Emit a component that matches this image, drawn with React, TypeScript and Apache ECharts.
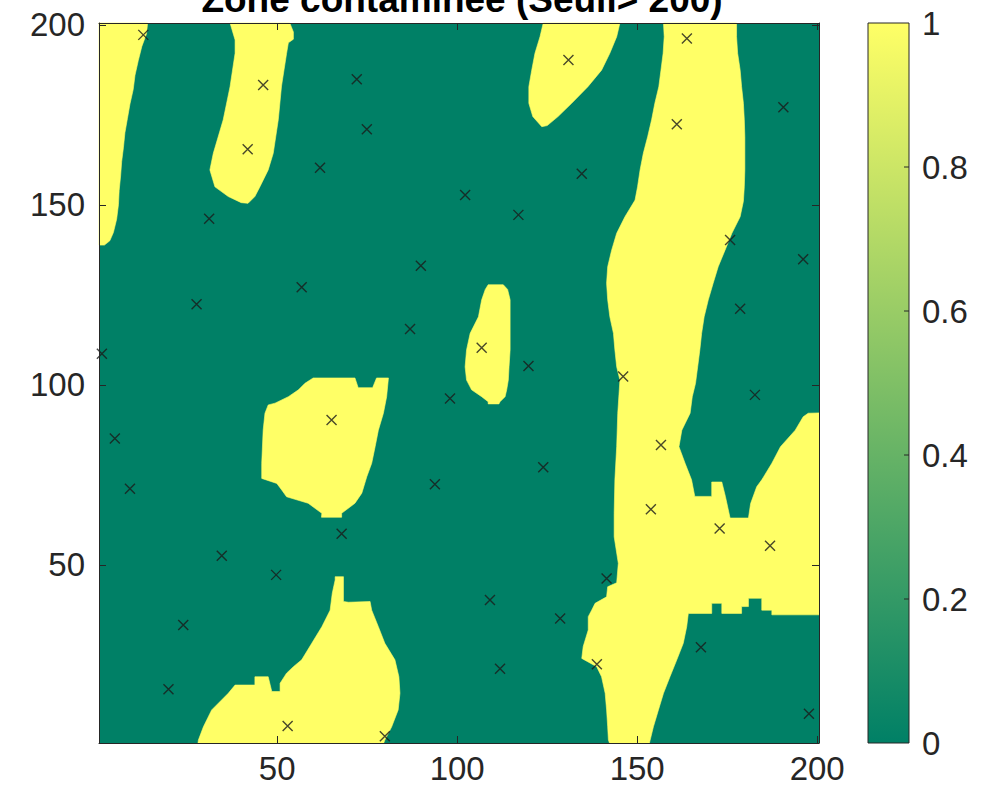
import React, { useEffect, useRef } from "react";
import * as echarts from "echarts";

// ---- labels & ticks -------------------------------------------------------
const TITLE = "Zone contaminée (Seuil> 200)";
const X_TICKS = [50, 100, 150, 200];
const Y_TICKS = [50, 100, 150, 200];
const GRID_RANGE: [number, number] = [0.5, 200.5];
const CBAR_RANGE: [number, number] = [0, 1];
const CBAR_STEP = 0.2;
const CBAR_TICKS = [0.2, 0.4, 0.6, 0.8];

// ---- colours (summer colormap end points) ---------------------------------
const GREEN = "#008066"; // value 0
const YELLOW = "#ffff66"; // value 1
const INK = "#262626";

// ---- contaminated zones (value 1), outlines in grid coordinates [x, y] ----
const zoneWestStrip: [number, number][] = [
  [0.5, 200.5], [14, 200.5], [13.7, 197.5], [12.4, 194], [11.4, 190], [10.5, 186],
  [10, 182], [9.1, 178], [8.4, 174], [7.7, 170], [7.3, 166], [6.8, 162], [6.5, 158],
  [6.1, 154], [5.9, 150], [5.4, 146], [4.5, 142.3], [3.5, 140], [2, 138.8], [0.5, 138.8],
];

const zoneNorthWest: [number, number][] = [
  [36.9, 200.5], [53.5, 200.5], [54.5, 198], [54.5, 196], [53.1, 195], [52.6, 192],
  [51.2, 183], [50.3, 173.6], [48.9, 164.3], [47.5, 159.7], [45.2, 155], [43.8, 152.3],
  [41.9, 150.4], [40, 150.6], [36.4, 152.3], [32.7, 155], [31.3, 159.7], [32.25, 164.3],
  [35, 173.6], [36.9, 182.8], [38.3, 192.1], [38.3, 195.8],
];

const zoneNorthCentre: [number, number][] = [
  [123.9, 200.5], [145.2, 200.5], [144.3, 196.7], [142.4, 192.1], [140.1, 187.4],
  [136.3, 182.8], [131.8, 178.2], [128, 174.5], [125, 172], [123.5, 171.7], [121, 174.5],
  [119.9, 178.2], [119.9, 182.8], [120.7, 187.4], [121.6, 192.1], [123, 196.7],
];

const zoneEastBand: [number, number][] = [
  [157.3, 200.5], [177.6, 200.5], [177.6, 196.7], [177.9, 192.1], [178.6, 187.4],
  [179, 182.8], [179.5, 178.2], [179.75, 173.6], [179.9, 168.9], [179.9, 159.7],
  [179.75, 155], [179.5, 151], [178.6, 146.7], [176.3, 142.1], [174.4, 137.4],
  [172.5, 132.8], [171.1, 128.2], [169.75, 123.6], [168.6, 118.9], [167.9, 114.3],
  [167.4, 109.7], [166.8, 105], [166.2, 100.4], [165.3, 96.7], [164.7, 92.1],
  [162.4, 87.4], [161.6, 82.8], [163.3, 78.2], [165.1, 73.6], [166, 69], [170.7, 69],
  [170.7, 73], [173.5, 73], [174.5, 69], [175.8, 63], [180.9, 63], [181.5, 67],
  [183.2, 71.7], [184.6, 73.6], [187.4, 78.2], [189.8, 82.8], [193.9, 87.4],
  [196.1, 91.1], [197.5, 92.1], [200.5, 92.2], [200.5, 36.1], [187.4, 36.1],
  [187.4, 37.4], [184.6, 37.4], [184.6, 40.7], [180.9, 40.7], [180.9, 38.4], [179, 38.4],
  [179, 36.5], [173.5, 36.5], [173.5, 39.3], [170.7, 39.3], [170.7, 36.5], [164.2, 36.5],
  [163.75, 32.8], [162.8, 28.2], [161, 23.6], [159.1, 18.9], [157.3, 14.3], [155.9, 9.7],
  [154.5, 5], [153.6, 1.3], [153.4, 0.5], [142.3, 0.5], [142, 1.3], [141.8, 5],
  [141.5, 9.7], [141.1, 14.3], [140.1, 18.9], [138.75, 21.7], [134.6, 24], [135, 27.3],
  [136.4, 31.9], [136.4, 35.6], [137.35, 37.4], [138.3, 39.3], [141.5, 41.1],
  [141.8, 43.9], [144.3, 45], [144.75, 50.4], [143.6, 57.8], [143.6, 64.3],
  [143.8, 73.6], [144.3, 82.8], [144.6, 92.1], [145.2, 101.3], [144.3, 105],
  [143.8, 109.7], [143.4, 114.3], [142.4, 118.9], [141.8, 123.6], [141.5, 128.2],
  [141.8, 132.8], [142.9, 137.4], [144.3, 142.1], [146.6, 146.7], [149.4, 151.3],
  [150.1, 155], [150.8, 159.7], [151.7, 164.3], [152.9, 168.9], [154, 173.6],
  [154.9, 178.2], [156, 182.8], [156.6, 187.4], [157.2, 192.1], [157.5, 196.7],
];

const zoneCentre: [number, number][] = [
  [108.6, 127.8], [112.8, 127.8], [114, 126.5], [114.7, 123.6], [114.7, 109.7],
  [114.4, 105], [114.2, 101.3], [113.75, 98.6], [113.3, 96.7], [111.9, 95.3],
  [111.6, 94.7], [108.6, 94.7], [108.6, 95.3], [106.8, 96.7], [104, 98.6],
  [102.6, 101.3], [102.2, 105], [102.6, 109.7], [103.6, 114.3], [105.9, 118.9],
  [106.8, 123.6], [107.8, 126.5],
];

const zoneWestCentre: [number, number][] = [
  [60, 101.9], [71.6, 101.9], [72.5, 99.2], [76.5, 99.2], [77.6, 101.9], [80.9, 101.9],
  [80.4, 96.7], [79.5, 92.1], [78.1, 87.4], [77.2, 82.8], [76.25, 78.2], [74.9, 74.5],
  [73.5, 69.9], [71.6, 67.1], [67.9, 64.3], [67.9, 63.2], [62.3, 63.2], [62.4, 64.3],
  [58.6, 67.1], [52.6, 68.9], [51.25, 70.8], [49.9, 72.6], [45.7, 74], [45.7, 78.2],
  [46.1, 87.4], [46.6, 92.1], [47.5, 94.4], [49.4, 94.9], [53.1, 96.7], [55.9, 98.6],
  [57.7, 100.4],
];

const zoneSouth: [number, number][] = [
  [66.1, 46.7], [68.4, 46.7], [68.4, 39.8], [69.8, 39.6], [75.8, 39.8], [76.25, 37.4],
  [78.1, 32.8], [79.9, 28.2], [82.7, 23.6], [83.8, 18.9], [84.1, 14.3], [83.6, 9.7],
  [81.8, 5], [79.9, 1.3], [79.6, 0.5], [28, 0.5], [28.1, 1.3], [29.5, 5], [31.8, 9.7],
  [36.4, 14.3], [38.3, 16.6], [43.8, 16.6], [43.8, 18.9], [47.5, 18.9], [48.5, 14.8],
  [50.8, 14.8], [50.8, 17.1], [52.6, 19.9], [54.5, 21.7], [56.8, 23.6], [59.6, 28.2],
  [62.4, 32.8], [64.7, 37.4], [65.3, 42.1], [66.1, 45.8],
];

const ZONES = [
  zoneWestStrip, zoneNorthWest, zoneNorthCentre, zoneEastBand,
  zoneCentre, zoneWestCentre, zoneSouth,
];

// ---- sampling points (x, y) -----------------------------------------------
const SAMPLE_POINTS: [number, number][] = [
  [12.8, 197.2], [46.1, 183.3], [41.8, 165.4], [72.1, 184.9], [74.9, 171.0],
  [61.9, 160.3], [130.9, 190.2], [163.8, 196.2], [161.0, 172.4], [190.6, 177.1],
  [134.6, 158.6], [102.2, 152.7], [31.1, 146.1], [27.6, 122.4], [56.8, 127.1],
  [1.3, 108.6], [89.9, 133.1], [86.9, 115.5], [117.0, 147.2], [106.8, 110.3],
  [119.8, 105.2], [146.1, 102.3], [175.8, 140.2], [196.1, 134.9], [178.6, 121.1],
  [98.0, 96.2], [65.1, 90.2], [4.9, 85.1], [9.1, 71.1], [93.8, 72.4],
  [67.9, 58.6], [34.6, 52.5], [182.7, 97.2], [156.6, 83.3], [123.9, 77.1],
  [153.8, 65.4], [172.9, 60.1], [186.9, 55.3], [49.7, 47.2], [23.9, 33.3],
  [19.8, 15.4], [52.9, 5.2], [79.9, 2.4], [141.5, 46.2], [109.1, 40.2],
  [128.6, 35.1], [111.9, 21.1], [138.8, 22.4], [167.7, 27.1], [197.7, 8.6],
];

const FONT = "'Liberation Sans', Arial, Helvetica, sans-serif";
const W = 981;
const H = 797;

function buildOption(): echarts.EChartsCoreOption {
  const labelStyle = { color: INK, fontSize: 33, fontFamily: FONT };
  const lineStyle = { color: INK, width: 1 };

  const mainAxisX = (position: "bottom" | "top", withLabels: boolean) => ({
    type: "value",
    gridIndex: 0,
    position,
    min: GRID_RANGE[0],
    max: GRID_RANGE[1],
    z: 10,
    axisLine: { show: true, onZero: false, lineStyle },
    axisTick: { show: true, inside: true, length: 7, lineStyle, customValues: X_TICKS },
    axisLabel: { show: withLabels, margin: 9, customValues: X_TICKS, ...labelStyle },
    splitLine: { show: false },
  });

  const mainAxisY = (position: "left" | "right", withLabels: boolean) => ({
    type: "value",
    gridIndex: 0,
    position,
    min: GRID_RANGE[0],
    max: GRID_RANGE[1],
    z: 10,
    axisLine: { show: true, onZero: false, lineStyle },
    axisTick: { show: true, inside: true, length: 7, lineStyle, customValues: Y_TICKS },
    axisLabel: { show: withLabels, margin: 14, customValues: Y_TICKS, ...labelStyle },
    splitLine: { show: false },
  });

  return {
    animation: false,
    backgroundColor: "#ffffff",
    textStyle: { fontFamily: FONT },
    graphic: [
      {
        type: "text",
        x: 462,
        y: -1,
        z: 100,
        style: {
          text: TITLE,
          fill: "#000000",
          font: `bold 37px ${FONT}`,
          align: "center",
          verticalAlign: "middle",
        },
      },
    ],
    grid: [
      { left: 99, top: 23, width: 720, height: 720, show: true, backgroundColor: GREEN, borderWidth: 0 },
      { left: 868, top: 23, width: 41, height: 720, show: false },
    ],
    xAxis: [
      mainAxisX("bottom", true),
      mainAxisX("top", false),
      {
        type: "value",
        gridIndex: 1,
        min: 0,
        max: 1,
        show: false,
      },
    ],
    yAxis: [
      mainAxisY("left", true),
      mainAxisY("right", false),
      {
        type: "value",
        gridIndex: 1,
        position: "right",
        min: CBAR_RANGE[0],
        max: CBAR_RANGE[1],
        interval: CBAR_STEP,
        axisLine: { show: false },
        axisTick: { show: false },
        axisLabel: {
          margin: 13,
          formatter: (v: number) => String(Math.round(v * 10) / 10),
          ...labelStyle,
        },
        splitLine: { show: false },
      },
    ],
    series: [
      {
        type: "custom",
        name: "zones",
        xAxisIndex: 0,
        yAxisIndex: 0,
        silent: true,
        z: 2,
        data: ZONES.map((z) => [z[0][0], z[0][1]]),
        renderItem: (params: any, api: any) => {
          const outline = ZONES[params.dataIndex];
          const points = outline.map((p) => api.coord(p));
          return {
            type: "polygon",
            shape: { points },
            style: { fill: YELLOW, stroke: YELLOW, lineWidth: 0.6 },
          };
        },
      },
      {
        type: "scatter",
        name: "samples",
        xAxisIndex: 0,
        yAxisIndex: 0,
        z: 5,
        symbol: "path://M0,0L10,10M10,0L0,10",
        symbolSize: 10,
        itemStyle: { color: "none", borderColor: "#1a1a1a", borderWidth: 1.4 },
        data: SAMPLE_POINTS,
      },
      {
        // colour scale bar: gradient box with inward ticks on its right edge
        type: "custom",
        name: "colorbar",
        xAxisIndex: 2,
        yAxisIndex: 2,
        silent: true,
        z: 2,
        data: [[0, CBAR_RANGE[0]]],
        renderItem: (_params: any, api: any) => {
          const tl = api.coord([0, CBAR_RANGE[1]]);
          const br = api.coord([1, CBAR_RANGE[0]]);
          const ticks = CBAR_TICKS.map((v) => {
            const p = api.coord([1, v]);
            return {
              type: "line",
              shape: { x1: p[0] - 5, y1: p[1], x2: p[0], y2: p[1] },
              style: { stroke: INK, lineWidth: 1 },
            };
          });
          return {
            type: "group",
            children: [
              {
                type: "rect",
                shape: { x: tl[0], y: tl[1], width: br[0] - tl[0], height: br[1] - tl[1] },
                style: {
                  fill: new echarts.graphic.LinearGradient(0, 0, 0, 1, [
                    { offset: 0, color: YELLOW },
                    { offset: 1, color: GREEN },
                  ]),
                  stroke: INK,
                  lineWidth: 1,
                },
              },
              ...ticks,
            ],
          };
        },
      },
    ],
  };
}

export default function App() {
  const ref = useRef<HTMLDivElement>(null);

  useEffect(() => {
    if (!ref.current) return;
    const chart = echarts.init(ref.current, undefined, { renderer: "svg" });
    chart.setOption(buildOption());
    return () => chart.dispose();
  }, []);

  return (
    <div
      ref={ref}
      style={{ position: "fixed", left: 0, top: 0, width: W, height: H, background: "#fff" }}
    />
  );
}
